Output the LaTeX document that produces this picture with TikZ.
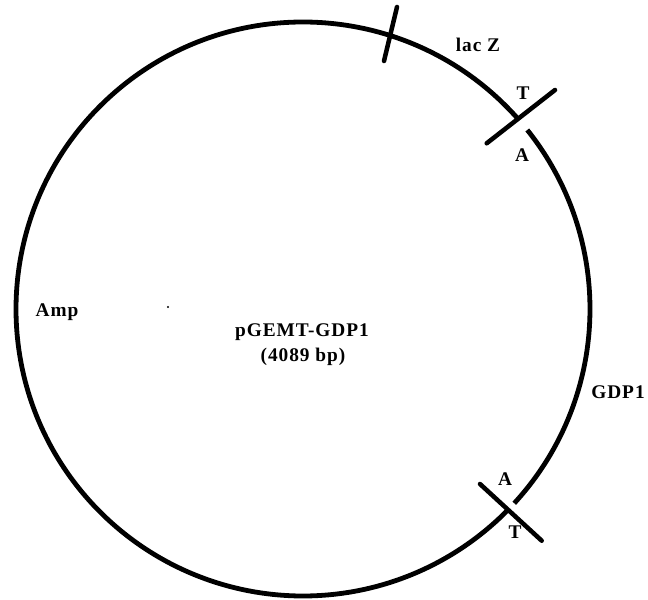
\documentclass[tikz,border=0pt]{standalone}
\usepackage{fontspec}
\usetikzlibrary{calc}
\setmainfont{Liberation Serif}[LetterSpace=5]
\begin{document}
\begin{tikzpicture}[x=0.75pt,y=0.75pt,
  plasmid/.style={line width=3.6pt},
  tick/.style={line width=3.4pt, line cap=round},
  lbl/.style={font=\fontsize{14.5}{16}\selectfont\bfseries, inner sep=0pt, anchor=center}]
\useasboundingbox (0,0) rectangle (648,599);
\coordinate (c) at (303,290);
% main backbone arc and GDP1 insert arc
\draw[plasmid] ($(c)+(41.75:215.25pt)$) arc[start angle=41.75, end angle=315.4, radius=215.25pt];
\draw[plasmid] ($(c)+(38.6:215.25pt)$) arc[start angle=38.6, end angle=-42.6, radius=215.25pt];
% tick marks
\coordinate (lz1) at (397,592);
\coordinate (lz2) at (384,538);
\coordinate (ta1) at (486.7,455.7);
\coordinate (ta2) at (555,509);
\coordinate (tb1) at (480,115);
\coordinate (tb2) at (541.7,58.3);
\draw[tick] (lz1) -- (lz2);
\draw[tick] (ta1) -- (ta2);
\draw[tick] (tb1) -- (tb2);
% labels
\node[lbl] (lacz) at (478,554) {lac Z};
\node[lbl] (tup) at (523,505.5) {T};
\node[lbl] (aup) at (522,444) {A};
\node[lbl] (alow) at (505,119.7) {A};
\node[lbl] (tlow) at (515,67.3) {T};
\node[lbl] (gdp) at (618,207) {GDP1};
\node[lbl] (amp) at (57,287) {Amp};
\node[lbl] (name) at (302,267) {pGEMT-GDP1};
\node[lbl] (size) at (303,242) {(4089 bp)};
\fill (168,292) circle (0.9pt);
\end{tikzpicture}
\end{document}
